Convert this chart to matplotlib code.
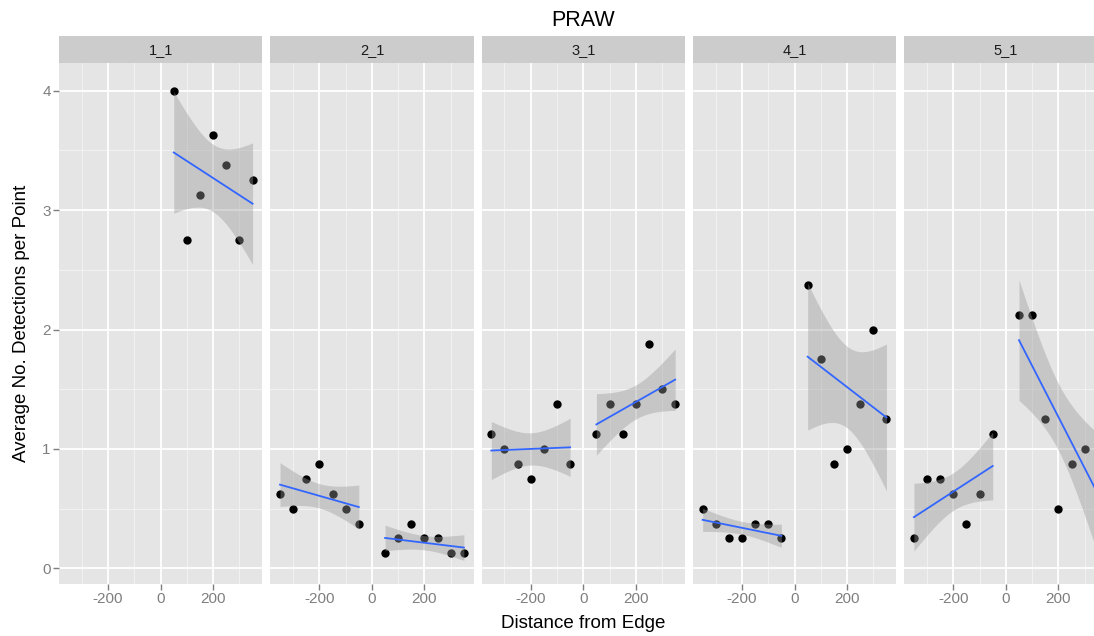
import numpy as np
import matplotlib
matplotlib.use("Agg")
import matplotlib.pyplot as plt

plt.rcParams['font.family'] = ['Liberation Sans', 'DejaVu Sans']

# ---------------- data ----------------
facets = ["1_1", "2_1", "3_1", "4_1", "5_1"]
x_neg = [-350, -300, -250, -200, -150, -100, -50]
x_pos = [50, 100, 150, 200, 250, 300, 350]

y_neg = {
    "1_1": None,
    "2_1": [0.625, 0.5, 0.75, 0.875, 0.625, 0.5, 0.375],
    "3_1": [1.125, 1.0, 0.875, 0.75, 1.0, 1.375, 0.875],
    "4_1": [0.5, 0.375, 0.25, 0.25, 0.375, 0.375, 0.25],
    "5_1": [0.25, 0.75, 0.75, 0.625, 0.375, 0.625, 1.125],
}
y_pos = {
    "1_1": [4.0, 2.75, 3.125, 3.625, 3.375, 2.75, 3.25],
    "2_1": [0.125, 0.25, 0.375, 0.25, 0.25, 0.125, 0.125],
    "3_1": [1.125, 1.375, 1.125, 1.375, 1.875, 1.5, 1.375],
    "4_1": [2.375, 1.75, 0.875, 1.0, 1.375, 2.0, 1.25],
    "5_1": [2.125, 2.125, 1.25, 0.5, 0.875, 1.0, 1.0],
}

x_ticks = [-200, 0, 200]
x_minor = [-300, -100, 100, 300]
y_ticks = [0, 1, 2, 3, 4]
y_minor = [0.5, 1.5, 2.5, 3.5]
BAND_K = 1.6  # ribbon half-width multiplier of the standard error

# ---------------- layout ----------------
W, H = 1094, 636
fig = plt.figure(figsize=(W / 100, H / 100), dpi=100)

panel_left0 = 59
panel_w = 203.3
panel_step = 211.3
panel_top = 63.3
panel_bot = 584
strip_top = 36

xlim = (-387, 387)
ylim = (-0.131, 4.229)


def fx(px):
    return px / W


def fy(py):
    return 1 - py / H


def lm_band(x, y):
    x = np.asarray(x, float)
    y = np.asarray(y, float)
    n = len(x)
    xm = x.mean()
    sxx = ((x - xm) ** 2).sum()
    b = ((x - xm) * (y - y.mean())).sum() / sxx
    a = y.mean() - b * xm
    resid = y - (a + b * x)
    s = np.sqrt((resid ** 2).sum() / (n - 2))
    xs = np.linspace(x.min(), x.max(), 80)
    fit = a + b * xs
    se = s * np.sqrt(1.0 / n + (xs - xm) ** 2 / sxx)
    return xs, fit, fit - BAND_K * se, fit + BAND_K * se


for i, f in enumerate(facets):
    left = panel_left0 + i * panel_step
    ax = fig.add_axes([fx(left), fy(panel_bot), panel_w / W,
                       (panel_bot - panel_top) / H])
    ax.set_facecolor("#E5E5E5")
    ax.set_xlim(*xlim)
    ax.set_ylim(*ylim)
    for sp in ax.spines.values():
        sp.set_visible(False)
    # grid
    for xm_ in x_minor:
        ax.axvline(xm_, color="#F2F2F2", lw=0.7, zorder=0.5)
    for ym_ in y_minor:
        ax.axhline(ym_, color="#F2F2F2", lw=0.7, zorder=0.5)
    for xt in x_ticks:
        ax.axvline(xt, color="white", lw=1.3, zorder=0.6)
    for yt in y_ticks:
        ax.axhline(yt, color="white", lw=1.3, zorder=0.6)

    groups = []
    if y_neg[f] is not None:
        groups.append((x_neg, y_neg[f]))
    groups.append((x_pos, y_pos[f]))
    for gx, gy in groups:
        ax.scatter(gx, gy, s=36, color="black", zorder=2, linewidths=0)
        xs, fit, lo, hi = lm_band(gx, gy)
        ax.fill_between(xs, lo, hi, color="#999999", alpha=0.4,
                        linewidth=0, zorder=3)
        ax.plot(xs, fit, color="#3366FF", lw=1.3, zorder=4)

    ax.set_xticks(x_ticks)
    ax.set_xticklabels([str(t) for t in x_ticks])
    ax.tick_params(axis="x", colors="#7F7F7F", labelsize=11, length=4,
                   width=1, pad=2, labelcolor="#7F7F7F")
    if i == 0:
        ax.set_yticks(y_ticks)
        ax.set_yticklabels([str(t) for t in y_ticks])
        ax.tick_params(axis="y", colors="#7F7F7F", labelsize=11, length=4,
                       width=1, pad=2, labelcolor="#7F7F7F")
    else:
        ax.set_yticks(y_ticks)
        ax.tick_params(axis="y", length=0, labelleft=False)

    # strip
    sax = fig.add_axes([fx(left), fy(panel_top), panel_w / W,
                        (panel_top - strip_top) / H])
    sax.set_facecolor("#CCCCCC")
    sax.set_xticks([])
    sax.set_yticks([])
    for sp in sax.spines.values():
        sp.set_visible(False)
    sax.text(0.5, 0.5, f, ha="center", va="center", fontsize=10.5,
             color="#1A1A1A", transform=sax.transAxes)

center_x = panel_left0 + (4 * panel_step + panel_w) / 2
fig.text(fx(center_x), fy(20), "PRAW", ha="center", va="center",
         fontsize=15.5, color="black")
fig.text(fx(center_x), fy(623), "Distance from Edge", ha="center",
         va="center", fontsize=13.5, color="black")
fig.text(fx(22), fy((panel_top + panel_bot) / 2),
         "Average No. Detections per Point", ha="center", va="center",
         rotation=90, fontsize=13.5, color="black")

fig.savefig("out.png", dpi=100, facecolor="white")
